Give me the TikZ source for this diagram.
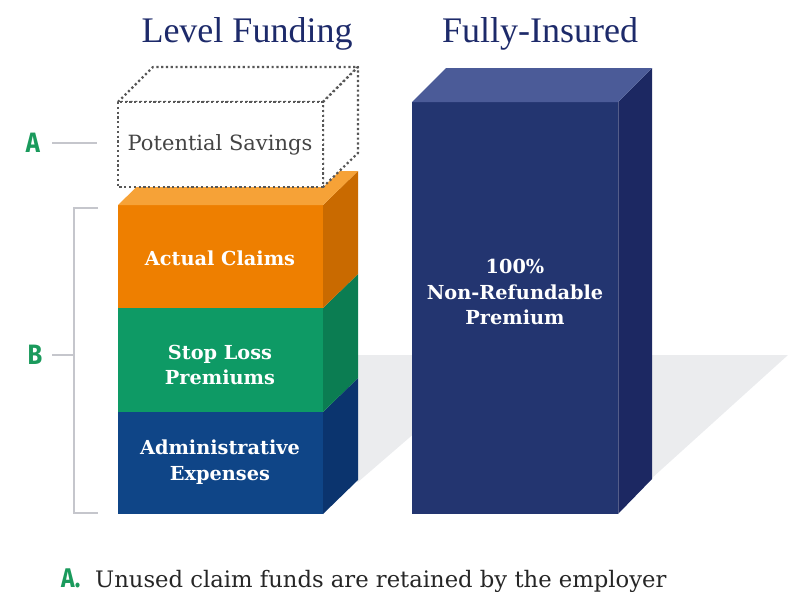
\documentclass[tikz,border=0pt]{standalone}
\usepackage{fontspec}
\setmainfont{DejaVu Serif}
\newfontfamily\titlefont{Liberation Serif}
\newfontfamily\letterfont[FakeStretch=0.85]{Fira Sans}
\definecolor{navy}{HTML}{1D2A6A}
\definecolor{orfront}{HTML}{EE7F00}
\definecolor{ortop}{HTML}{F6A237}
\definecolor{orside}{HTML}{C96A00}
\definecolor{grfront}{HTML}{0E9A65}
\definecolor{grside}{HTML}{0B7D52}
\definecolor{blfront}{HTML}{0F4587}
\definecolor{blside}{HTML}{0B346E}
\definecolor{rbfront}{HTML}{233570}
\definecolor{rbtop}{HTML}{4B5B98}
\definecolor{rbside}{HTML}{1C2862}
\definecolor{shadowgray}{HTML}{EBECEE}
\definecolor{lettergreen}{HTML}{1A9A5C}
\definecolor{bracketgray}{HTML}{C5C6CC}
\definecolor{savegray}{HTML}{444444}
\tikzset{
  title/.style={font=\titlefont\fontsize{36}{40}\selectfont, text=navy, inner sep=0pt, anchor=base},
  barlabel/.style={font=\bfseries\fontsize{19.3}{25.5}\selectfont, text=white, align=center, inner sep=0pt},
  letter/.style={font=\letterfont\bfseries\fontsize{28}{28}\selectfont, text=lettergreen, inner sep=0pt},
  bracketline/.style={draw=bracketgray, line width=1.5pt},
  dotbox/.style={draw=savegray!90, line width=2.2pt, dash pattern=on 2.2pt off 2.6pt, line join=round, fill=white},
}
\begin{document}
\begin{tikzpicture}[x=1pt,y=-1pt]
\useasboundingbox (0,0) rectangle (800,600);
% shadow
\fill[shadowgray] (345,355) -- (505,355) -- (358,482) -- (345,482) -- cycle;
\fill[shadowgray] (600,355) -- (788,355) -- (652,478) -- (600,478) -- cycle;
% left stack: blue
\fill[blfront] (118,412) rectangle (323,514);
\fill[blside] (323,412) -- (358,378) -- (358,480) -- (323,514) -- cycle;
% green
\fill[grfront] (118,308) rectangle (323,412);
\fill[grside] (323,308) -- (358,274) -- (358,378) -- (323,412) -- cycle;
% orange
\fill[orfront] (118,205) rectangle (323,308);
\fill[orside] (323,205) -- (358,171) -- (358,274) -- (323,308) -- cycle;
\fill[ortop] (118,205) -- (153,171) -- (358,171) -- (323,205) -- cycle;
% dotted potential savings box
\path[dotbox] (118,102) -- (153,67) -- (358,67) -- (323,102) -- cycle;
\path[dotbox] (323,102) -- (358,67) -- (358,153) -- (323,187) -- cycle;
\path[dotbox] (118,102) rectangle (323,187);
% right bar
\fill[rbfront] (412,102) rectangle (618,514);
\fill[rbside] (618,102) -- (652,68) -- (652,479) -- (618,514) -- cycle;
\fill[rbtop] (412,102) -- (446,68) -- (652,68) -- (618,102) -- cycle;
\draw[white, opacity=0.25, line width=0.8pt] (618,102) -- (618,514);
% titles
\node[title] (t1) at (247,42) {Level Funding};
\node[title] (t2) at (540,42) {Fully-Insured};
% labels
\node[font=\fontsize{21}{24}\selectfont, text=savegray, inner sep=0pt] (ps) at (220,145) {Potential Savings};
\node[barlabel] (ac) at (220,258) {Actual Claims};
\node[barlabel] (sl) at (220,365) {Stop Loss\\Premiums};
\node[barlabel] (ae) at (220,462) {Administrative\\Expenses};
\node[barlabel] (nr) at (515,292) {100\%\\Non-Refundable\\Premium};
% letters and bracket
\node[letter] (A) at (33,143) {A};
\node[letter] (B) at (35,355) {B};
\coordinate (aend) at (97,143);
\coordinate (btop) at (74,208);
\coordinate (bbot) at (74,513);
\coordinate (bmid) at (74,355);
\draw[bracketline] (52,143) -- (aend);
\draw[bracketline] (98,208) -- (btop) -- (bbot) -- (98,513);
\draw[bracketline] (52,355) -- (bmid);
% footer
\node[inner sep=0pt, anchor=base west] (fa) at (61,587) {\letterfont\bfseries\fontsize{27}{28}\selectfont\color{lettergreen}A.};
\node[inner sep=0pt, anchor=base west, font=\fontsize{22.7}{26}\selectfont, text=black!85] (ft) at (95,587) {Unused claim funds are retained by the employer};
\end{tikzpicture}
\end{document}
